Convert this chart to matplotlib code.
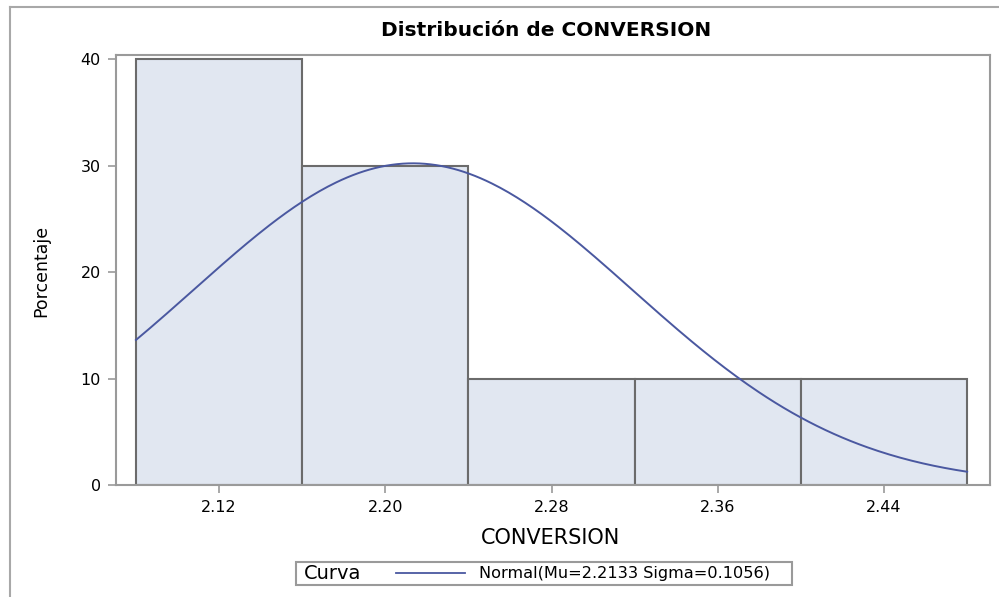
import numpy as np
import matplotlib.pyplot as plt
from matplotlib.lines import Line2D
from matplotlib.patches import Rectangle

# Datos del histograma
centros = [2.12, 2.20, 2.28, 2.36, 2.44]
porcentajes = [40, 30, 10, 10, 10]
ancho = 0.08
mu = 2.2133
sigma = 0.1056
etiquetas_x = ["2.12", "2.20", "2.28", "2.36", "2.44"]
ticks_y = [0, 10, 20, 30, 40]

plt.rcParams['font.family'] = ['DejaVu Sans']

W, H = 999, 597
fig = plt.figure(figsize=(W / 100, H / 100), dpi=100)
ax = fig.add_axes([116 / W, 1 - 485 / H, (990 - 116) / W, (485 - 55) / H])

ax.bar(centros, porcentajes, width=ancho, color='#e1e7f1', edgecolor='#6b6b6b', linewidth=1.5, zorder=2)

# Curva normal ajustada (escala porcentaje)
xs = np.linspace(centros[0] - ancho / 2, centros[-1] + ancho / 2, 300)
ys = 100 * ancho * np.exp(-0.5 * ((xs - mu) / sigma) ** 2) / (sigma * np.sqrt(2 * np.pi))
ax.plot(xs, ys, color='#4a58a0', linewidth=1.4, zorder=3)

ax.set_xlim(2.0704, 2.491)
ax.set_ylim(0, 40.4)
ax.set_xticks(centros)
ax.set_xticklabels(etiquetas_x)
ax.set_yticks(ticks_y)
for s in ax.spines.values():
    s.set_color('#9a9a9a')
    s.set_linewidth(1.5)
ax.tick_params(colors='#9a9a9a', labelcolor='black', length=6, width=1.2, labelsize=11.5, pad=5)

# Textos
fig.text(546 / W, 1 - 31 / H, 'Distribución de CONVERSION', fontsize=14.5, fontweight='bold',
         ha='center', va='center')
fig.text(550 / W, 1 - 538 / H, 'CONVERSION', fontsize=15, ha='center', va='center')
fig.text(41 / W, 1 - 271 / H, 'Porcentaje', fontsize=12.5, rotation=90, ha='center', va='center')

# Leyenda
fig.add_artist(Rectangle((296 / W, 1 - 585 / H), (792 - 296) / W, (585 - 562) / H,
                         transform=fig.transFigure, facecolor='white', edgecolor='#9a9a9a', linewidth=1.5))
fig.text(304 / W, 1 - 573.5 / H, 'Curva', fontsize=14, ha='left', va='center')
fig.add_artist(Line2D([396 / W, 465 / W], [1 - 573 / H, 1 - 573 / H], color='#4a58a0', linewidth=1.3))
fig.text(479 / W, 1 - 573.5 / H, 'Normal(Mu=2.2133 Sigma=0.1056)', fontsize=11.6, ha='left', va='center')

# Marco exterior
fig.add_artist(Line2D([10 / W, 1], [1 - 7 / H, 1 - 7 / H], color='#a8a8a8', linewidth=1.5))
fig.add_artist(Line2D([10 / W, 10 / W], [0, 1 - 7 / H], color='#a8a8a8', linewidth=1.5))

fig.savefig('out.png', dpi=100)
